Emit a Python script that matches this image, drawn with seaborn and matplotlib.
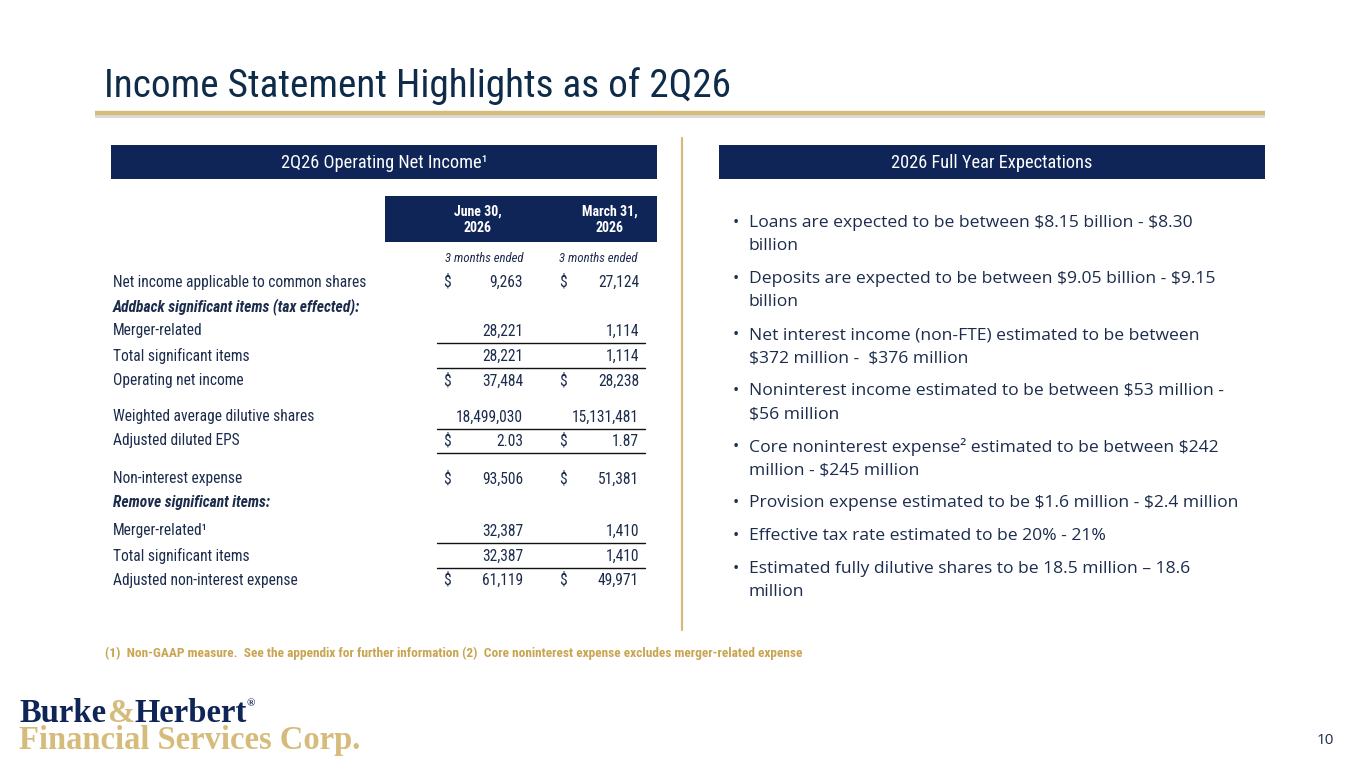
import matplotlib
matplotlib.use("Agg")
import matplotlib.pyplot as plt
import seaborn as sns
from matplotlib import font_manager
from matplotlib.patches import Rectangle

# --- content ---
TITLE = "Income Statement Highlights as of 2Q26"
LEFT_HEADER = "2Q26 Operating Net Income\u00b9"
RIGHT_HEADER = "2026 Full Year Expectations"
COLUMN_HEADERS = ["June 30,\n2026", "March 31,\n2026"]
PERIOD_LABEL = "3 months ended"

row_labels = [
    "Net income applicable to common shares",
    "Addback significant items (tax effected):",
    "Merger-related",
    "Total significant items",
    "Operating net income",
    "Weighted average dilutive shares",
    "Adjusted diluted EPS",
    "Non-interest expense",
    "Remove significant items:",
    "Merger-related\u00b9",
    "Total significant items",
    "Adjusted non-interest expense",
]
jun_values = [9263, None, 28221, 28221, 37484, 18499030, 2.03, 93506, None, 32387, 32387, 61119]
mar_values = [27124, None, 1114, 1114, 28238, 15131481, 1.87, 51381, None, 1410, 1410, 49971]
dollar_rows = [True, False, False, False, True, False, True, True, False, False, False, True]
heading_rows = [1, 8]
underlined_rows = [2, 3, 5, 6, 9, 10]

bullets = [
    "Loans are expected to be between $8.15 billion - $8.30\nbillion",
    "Deposits are expected to be between $9.05 billion - $9.15\nbillion",
    "Net interest income (non-FTE) estimated to be between\n$372 million -  $376 million",
    "Noninterest income estimated to be between $53 million -\n$56 million",
    "Core noninterest expense\u00b2 estimated to be between $242\nmillion - $245 million",
    "Provision expense estimated to be $1.6 million - $2.4 million",
    "Effective tax rate estimated to be 20% - 21%",
    "Estimated fully dilutive shares to be 18.5 million \u2013 18.6\nmillion",
]

FOOTNOTE = ("(1)  Non-GAAP measure.  See the appendix for further information (2)  "
            "Core noninterest expense excludes merger-related expense")
PAGE_NUMBER = "10"

# --- layout / style ---
NAVY = "#0F2557"
TEXT = "#1C2C4C"
GOLD = "#D6BC7A"
GOLD_TEXT = "#C9A552"
ROW_Y = [282, 307, 331, 356, 381, 417, 441, 479, 503, 531, 556, 580]
DOLLAR_X = [443, 559]
VALUE_X = [523, 639]


def pick_font(candidates):
    available = {f.name for f in font_manager.fontManager.ttflist}
    for name in candidates:
        if name in available:
            return name
    return "DejaVu Sans"


def fmt(value):
    if value is None:
        return ""
    if isinstance(value, float):
        return f"{value:.2f}"
    return f"{value:,}"


sns.set_theme(style="white")
NARROW = pick_font(["Liberation Sans Narrow", "Roboto Condensed", "Liberation Sans"])
BODY = pick_font(["Open Sans", "Liberation Sans"])
SERIF = pick_font(["Liberation Serif", "DejaVu Serif"])
plt.rcParams["font.family"] = [NARROW, "DejaVu Sans"]

fig = plt.figure(figsize=(13.65, 7.68), dpi=100)
ax = fig.add_axes([0, 0, 1, 1])
ax.set_xlim(0, 1365)
ax.set_ylim(768, 0)
ax.axis("off")


def put(x, y, s, **kw):
    kw.setdefault("color", TEXT)
    kw.setdefault("va", "center")
    return ax.text(x, y, s, parse_math=False, **kw)


# title and rule
put(104, 86, TITLE, fontsize=28.3, color="#0F2B4A")
ax.plot([95, 1265], [116, 116], color="#9a9a9a", lw=3, alpha=0.35, solid_capstyle="butt")
ax.plot([95, 1265], [113, 113], color=GOLD, lw=3.2, solid_capstyle="butt")

# section headers
for x0, label in [(111, LEFT_HEADER), (719, RIGHT_HEADER)]:
    ax.add_patch(Rectangle((x0, 145), 546, 34, color=NAVY, lw=0))
    put(x0 + 273, 163, label, ha="center", color="white", fontsize=13.2)

ax.plot([682, 682], [138, 630], color=GOLD, lw=1.6)

# table header
ax.add_patch(Rectangle((385, 196), 272, 46, color=NAVY, lw=0))
for cx, label in zip([478, 610], COLUMN_HEADERS):
    put(cx, 220, label, ha="center", color="white", fontsize=10, weight="bold", linespacing=1.25)
for cx in [484, 598]:
    put(cx, 258, PERIOD_LABEL, ha="center", fontsize=9.2, style="italic")

# table rows
for i, label in enumerate(row_labels):
    y = ROW_Y[i]
    if i in heading_rows:
        put(113, y, label, fontsize=11.2, weight="bold", style="italic")
        continue
    put(113, y, label, fontsize=11.2)
    for col, values in enumerate([jun_values, mar_values]):
        if dollar_rows[i]:
            put(DOLLAR_X[col], y, "$", fontsize=11.2)
        put(VALUE_X[col], y, fmt(values[i]), ha="right", fontsize=11.2)
    if i in underlined_rows:
        ax.plot([437, 645], [y + 11.5, y + 11.5], color="#111111", lw=1)

# bullets on the right
y = 223
for item in bullets:
    lines = item.split("\n")
    put(733, y, "\u2022", fontsize=12, family=BODY)
    for k, line in enumerate(lines):
        put(749, y + k * 23, line, fontsize=12.6, family=BODY)
    y += len(lines) * 23 + 10

# footnote
put(105, 653, FOOTNOTE, fontsize=9.6, weight="bold", color=GOLD_TEXT)

# logo
renderer = fig.canvas.get_renderer()
x = 20
for part, color, size in [("Burke", NAVY, 23.5), ("&", GOLD, 23.5), ("Herbert", NAVY, 23.5), ("\u00ae", NAVY, 8)]:
    t = put(x, 713 if size > 10 else 704, part, fontsize=size, weight="bold", color=color, family=SERIF)
    bb = t.get_window_extent(renderer=renderer)
    x += bb.width * 1365 / fig.bbox.width
put(19, 741, "Financial Services Corp.", fontsize=23.5, weight="bold", color=GOLD, family=SERIF)

put(1325, 741, PAGE_NUMBER, ha="center", fontsize=11, family=BODY)

fig.savefig("out.png", dpi=100, facecolor="white")
